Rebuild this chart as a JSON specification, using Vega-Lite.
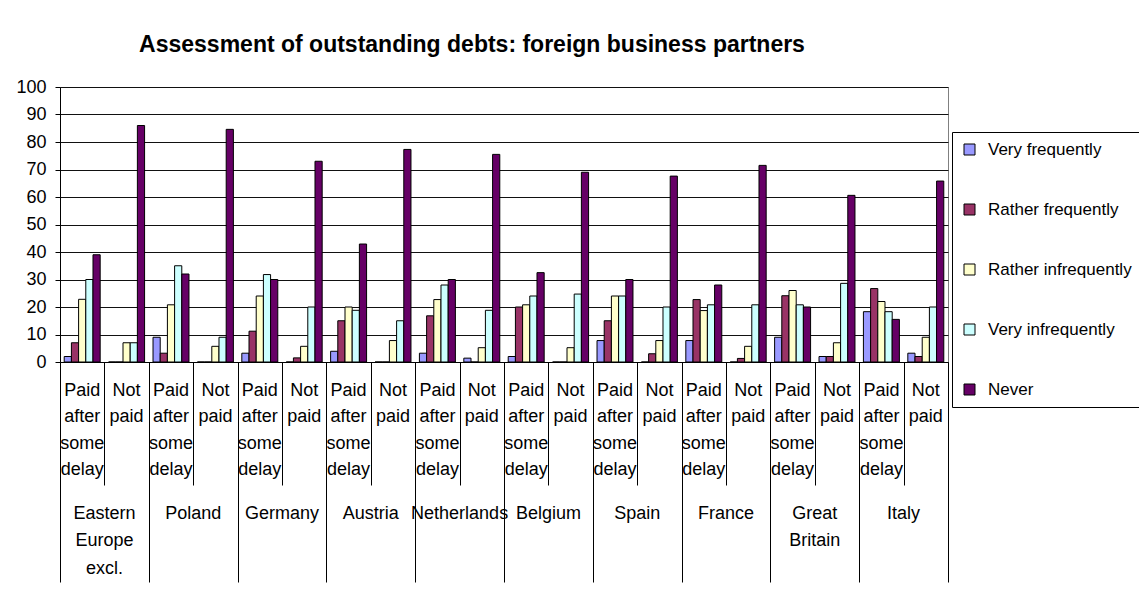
{
  "$schema": "https://vega.github.io/schema/vega-lite/v6.json",
  "width": 888,
  "height": 275,
  "autosize": {"type": "none"},
  "padding": {"left": 60, "top": 87, "right": 191, "bottom": 243},
  "background": "white",
  "config": {
    "font": "Liberation Sans",
    "view": {"stroke": "#808080"},
    "axis": {"labelColor": "black", "labelFont": "Liberation Sans"}
  },
  "title": {
    "text": "Assessment of outstanding debts: foreign business partners",
    "font": "Liberation Sans",
    "fontSize": 23,
    "fontWeight": "bold",
    "color": "black",
    "anchor": "middle",
    "frame": "group",
    "dx": -32,
    "offset": 21
  },
  "data": {
    "values": [
      {"group": "Eastern Europe excl. / Paid", "series": "Very frequently", "value": 2},
      {"group": "Eastern Europe excl. / Paid", "series": "Rather frequently", "value": 7},
      {"group": "Eastern Europe excl. / Paid", "series": "Rather infrequently", "value": 22.8},
      {"group": "Eastern Europe excl. / Paid", "series": "Very infrequently", "value": 30},
      {"group": "Eastern Europe excl. / Paid", "series": "Never", "value": 39},
      {"group": "Eastern Europe excl. / Not paid", "series": "Very frequently", "value": 0},
      {"group": "Eastern Europe excl. / Not paid", "series": "Rather frequently", "value": 0},
      {"group": "Eastern Europe excl. / Not paid", "series": "Rather infrequently", "value": 7},
      {"group": "Eastern Europe excl. / Not paid", "series": "Very infrequently", "value": 7},
      {"group": "Eastern Europe excl. / Not paid", "series": "Never", "value": 86},
      {"group": "Poland / Paid", "series": "Very frequently", "value": 9},
      {"group": "Poland / Paid", "series": "Rather frequently", "value": 3.2},
      {"group": "Poland / Paid", "series": "Rather infrequently", "value": 20.8},
      {"group": "Poland / Paid", "series": "Very infrequently", "value": 35},
      {"group": "Poland / Paid", "series": "Never", "value": 32},
      {"group": "Poland / Not paid", "series": "Very frequently", "value": 0},
      {"group": "Poland / Not paid", "series": "Rather frequently", "value": 0},
      {"group": "Poland / Not paid", "series": "Rather infrequently", "value": 5.7},
      {"group": "Poland / Not paid", "series": "Very infrequently", "value": 9},
      {"group": "Poland / Not paid", "series": "Never", "value": 84.6},
      {"group": "Germany / Paid", "series": "Very frequently", "value": 3.2},
      {"group": "Germany / Paid", "series": "Rather frequently", "value": 11.2},
      {"group": "Germany / Paid", "series": "Rather infrequently", "value": 24},
      {"group": "Germany / Paid", "series": "Very infrequently", "value": 31.8},
      {"group": "Germany / Paid", "series": "Never", "value": 30},
      {"group": "Germany / Not paid", "series": "Very frequently", "value": 0},
      {"group": "Germany / Not paid", "series": "Rather frequently", "value": 1.5},
      {"group": "Germany / Not paid", "series": "Rather infrequently", "value": 5.7},
      {"group": "Germany / Not paid", "series": "Very infrequently", "value": 20},
      {"group": "Germany / Not paid", "series": "Never", "value": 73},
      {"group": "Austria / Paid", "series": "Very frequently", "value": 3.9},
      {"group": "Austria / Paid", "series": "Rather frequently", "value": 15},
      {"group": "Austria / Paid", "series": "Rather infrequently", "value": 20},
      {"group": "Austria / Paid", "series": "Very infrequently", "value": 18.8},
      {"group": "Austria / Paid", "series": "Never", "value": 42.9},
      {"group": "Austria / Not paid", "series": "Very frequently", "value": 0},
      {"group": "Austria / Not paid", "series": "Rather frequently", "value": 0},
      {"group": "Austria / Not paid", "series": "Rather infrequently", "value": 7.8},
      {"group": "Austria / Not paid", "series": "Very infrequently", "value": 15},
      {"group": "Austria / Not paid", "series": "Never", "value": 77.3},
      {"group": "Netherlands / Paid", "series": "Very frequently", "value": 3.2},
      {"group": "Netherlands / Paid", "series": "Rather frequently", "value": 16.8},
      {"group": "Netherlands / Paid", "series": "Rather infrequently", "value": 22.7},
      {"group": "Netherlands / Paid", "series": "Very infrequently", "value": 28},
      {"group": "Netherlands / Paid", "series": "Never", "value": 30},
      {"group": "Netherlands / Not paid", "series": "Very frequently", "value": 1.4},
      {"group": "Netherlands / Not paid", "series": "Rather frequently", "value": 0},
      {"group": "Netherlands / Not paid", "series": "Rather infrequently", "value": 5.2},
      {"group": "Netherlands / Not paid", "series": "Very infrequently", "value": 18.8},
      {"group": "Netherlands / Not paid", "series": "Never", "value": 75.5},
      {"group": "Belgium / Paid", "series": "Very frequently", "value": 2},
      {"group": "Belgium / Paid", "series": "Rather frequently", "value": 20},
      {"group": "Belgium / Paid", "series": "Rather infrequently", "value": 20.8},
      {"group": "Belgium / Paid", "series": "Very infrequently", "value": 24},
      {"group": "Belgium / Paid", "series": "Never", "value": 32.5},
      {"group": "Belgium / Not paid", "series": "Very frequently", "value": 0},
      {"group": "Belgium / Not paid", "series": "Rather frequently", "value": 0},
      {"group": "Belgium / Not paid", "series": "Rather infrequently", "value": 5.2},
      {"group": "Belgium / Not paid", "series": "Very infrequently", "value": 24.7},
      {"group": "Belgium / Not paid", "series": "Never", "value": 69},
      {"group": "Spain / Paid", "series": "Very frequently", "value": 7.8},
      {"group": "Spain / Paid", "series": "Rather frequently", "value": 15},
      {"group": "Spain / Paid", "series": "Rather infrequently", "value": 24},
      {"group": "Spain / Paid", "series": "Very infrequently", "value": 24},
      {"group": "Spain / Paid", "series": "Never", "value": 30},
      {"group": "Spain / Not paid", "series": "Very frequently", "value": 0},
      {"group": "Spain / Not paid", "series": "Rather frequently", "value": 3},
      {"group": "Spain / Not paid", "series": "Rather infrequently", "value": 7.8},
      {"group": "Spain / Not paid", "series": "Very infrequently", "value": 20},
      {"group": "Spain / Not paid", "series": "Never", "value": 67.6},
      {"group": "France / Paid", "series": "Very frequently", "value": 7.8},
      {"group": "France / Paid", "series": "Rather frequently", "value": 22.7},
      {"group": "France / Paid", "series": "Rather infrequently", "value": 18.7},
      {"group": "France / Paid", "series": "Very infrequently", "value": 20.8},
      {"group": "France / Paid", "series": "Never", "value": 28},
      {"group": "France / Not paid", "series": "Very frequently", "value": 0},
      {"group": "France / Not paid", "series": "Rather frequently", "value": 1.3},
      {"group": "France / Not paid", "series": "Rather infrequently", "value": 5.7},
      {"group": "France / Not paid", "series": "Very infrequently", "value": 20.8},
      {"group": "France / Not paid", "series": "Never", "value": 71.5},
      {"group": "Great Britain / Paid", "series": "Very frequently", "value": 9},
      {"group": "Great Britain / Paid", "series": "Rather frequently", "value": 24.1},
      {"group": "Great Britain / Paid", "series": "Rather infrequently", "value": 26},
      {"group": "Great Britain / Paid", "series": "Very infrequently", "value": 20.8},
      {"group": "Great Britain / Paid", "series": "Never", "value": 20},
      {"group": "Great Britain / Not paid", "series": "Very frequently", "value": 2},
      {"group": "Great Britain / Not paid", "series": "Rather frequently", "value": 2},
      {"group": "Great Britain / Not paid", "series": "Rather infrequently", "value": 7},
      {"group": "Great Britain / Not paid", "series": "Very infrequently", "value": 28.6},
      {"group": "Great Britain / Not paid", "series": "Never", "value": 60.6},
      {"group": "Italy / Paid", "series": "Very frequently", "value": 18.3},
      {"group": "Italy / Paid", "series": "Rather frequently", "value": 26.7},
      {"group": "Italy / Paid", "series": "Rather infrequently", "value": 22},
      {"group": "Italy / Paid", "series": "Very infrequently", "value": 18.3},
      {"group": "Italy / Paid", "series": "Never", "value": 15.5},
      {"group": "Italy / Not paid", "series": "Very frequently", "value": 3.2},
      {"group": "Italy / Not paid", "series": "Rather frequently", "value": 2},
      {"group": "Italy / Not paid", "series": "Rather infrequently", "value": 9},
      {"group": "Italy / Not paid", "series": "Very infrequently", "value": 20},
      {"group": "Italy / Not paid", "series": "Never", "value": 65.8}
    ]
  },
  "layer": [
    {
      "mark": {"type": "bar", "stroke": "black", "strokeWidth": 1},
      "encoding": {
        "x": {
          "field": "group",
          "type": "nominal",
          "sort": null,
          "scale": {"paddingInner": 0.19, "paddingOuter": 0.095},
          "axis": {
            "orient": "bottom",
            "title": null,
            "ticks": false,
            "domainColor": "black",
            "labelAngle": 0,
            "labelAlign": "center",
            "labelPadding": 19,
            "labelFontSize": 18,
            "labelLineHeight": 26.5,
            "labelOverlap": false,
            "labelExpr": "indexof(datum.value, 'Not paid') >= 0 ? ['Not', 'paid'] : ['Paid', 'after', 'some', 'delay']"
          }
        },
        "xOffset": {
          "field": "series",
          "type": "nominal",
          "sort": ["Very frequently", "Rather frequently", "Rather infrequently", "Very infrequently", "Never"]
        },
        "y": {
          "field": "value",
          "type": "quantitative",
          "scale": {"domain": [0, 100], "nice": false},
          "axis": {
            "title": null,
            "values": [0, 10, 20, 30, 40, 50, 60, 70, 80, 90, 100],
            "grid": true,
            "gridColor": "#111111",
            "domainColor": "black",
            "tickColor": "black",
            "tickSize": 5,
            "labelPadding": 9,
            "labelFontSize": 18
          }
        },
        "color": {
          "field": "series",
          "type": "nominal",
          "scale": {
            "domain": ["Very frequently", "Rather frequently", "Rather infrequently", "Very infrequently", "Never"],
            "range": ["#9999FF", "#993366", "#FFFFCC", "#CCFFFF", "#660066"]
          },
          "legend": {
            "title": null,
            "orient": "none",
            "legendX": 892,
            "legendY": 45,
            "strokeColor": "black",
            "padding": 9,
            "symbolType": "square",
            "symbolSize": 121,
            "symbolStrokeColor": "black",
            "symbolStrokeWidth": 1,
            "labelFontSize": 17,
            "labelColor": "black",
            "labelOffset": 10,
            "rowPadding": 42
          }
        }
      }
    },
    {
      "mark": {"type": "bar", "opacity": 0},
      "encoding": {
        "x": {
          "field": "group",
          "type": "nominal",
          "sort": null,
          "axis": {
            "orient": "bottom",
            "title": null,
            "values": ["Eastern Europe excl. / Paid", "Poland / Paid", "Germany / Paid", "Austria / Paid", "Netherlands / Paid", "Belgium / Paid", "Spain / Paid", "France / Paid", "Great Britain / Paid", "Italy / Paid"],
            "ticks": false,
            "domain": false,
            "labelOffset": 22.2,
            "labelAngle": 0,
            "labelAlign": "center",
            "labelPadding": 142,
            "labelFontSize": 18,
            "labelLineHeight": 27.5,
            "labelOverlap": false,
            "labelExpr": "split(replace(datum.value, ' / Paid', ''), ' ')"
          }
        }
      }
    },
    {
      "mark": {"type": "bar", "opacity": 0},
      "encoding": {
        "x": {
          "field": "group",
          "type": "nominal",
          "sort": null,
          "axis": {
            "orient": "bottom",
            "title": null,
            "values": ["Eastern Europe excl. / Paid", "Poland / Paid", "Germany / Paid", "Austria / Paid", "Netherlands / Paid", "Belgium / Paid", "Spain / Paid", "France / Paid", "Great Britain / Paid", "Italy / Paid"],
            "bandPosition": 0,
            "tickOffset": -4.218,
            "tickSize": 220,
            "tickColor": "black",
            "domain": false,
            "labels": false
          }
        }
      }
    },
    {
      "mark": {"type": "bar", "opacity": 0},
      "encoding": {
        "x": {
          "field": "group",
          "type": "nominal",
          "sort": null,
          "axis": {
            "orient": "bottom",
            "title": null,
            "values": ["Eastern Europe excl. / Not paid", "Poland / Not paid", "Germany / Not paid", "Austria / Not paid", "Netherlands / Not paid", "Belgium / Not paid", "Spain / Not paid", "France / Not paid", "Great Britain / Not paid", "Italy / Not paid"],
            "bandPosition": 0,
            "tickOffset": -4.218,
            "tickSize": 123,
            "tickColor": "black",
            "domain": false,
            "labels": false
          }
        }
      }
    },
    {
      "mark": {"type": "bar", "opacity": 0},
      "encoding": {
        "x": {
          "field": "group",
          "type": "nominal",
          "sort": null,
          "axis": {
            "orient": "bottom",
            "title": null,
            "values": ["Italy / Not paid"],
            "bandPosition": 1,
            "tickOffset": 4.218,
            "tickSize": 220,
            "tickColor": "black",
            "domain": false,
            "labels": false
          }
        }
      }
    }
  ],
  "resolve": {"axis": {"x": "independent"}}
}
